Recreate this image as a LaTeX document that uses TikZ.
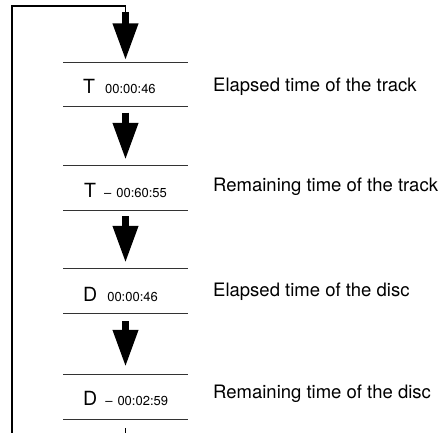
\documentclass[tikz,border=0pt]{standalone}
\usepackage{fontspec}
\setmainfont{TeX Gyre Heros}
\usetikzlibrary{arrows.meta}

\begin{document}
\begin{tikzpicture}[
		x=1pt,
		y=-1pt,
		frame/.style={minimum width=124pt, minimum height=44pt, inner sep=0pt},
		sep/.style={draw=black!80, line width=1.1pt},
		flow/.style={line width=7pt, -{Triangle[width=24pt,length=37pt]}},
		loopline/.style={line width=1.3pt},
		readout/.style={anchor=base west, inner sep=0pt},
		caption/.style={anchor=base west, inner sep=0pt, font=\fontsize{18.5}{22}\selectfont}
		]
		\useasboundingbox (0,0) rectangle (444,433);
		
		% Display rows
		\foreach \n/\y in {1/84.5, 2/188, 3/291, 4/397}{
			\node[frame] (r\n) at (125.5,\y) {};
			\draw[sep] (r\n.north west) -- (r\n.north east);
			\draw[sep] (r\n.south west) -- (r\n.south east);
		}
		
		% Readouts
		\newcommand{\bigchar}[1]{{\fontsize{19.5}{22}\selectfont #1}}
		\newcommand{\smalltime}[1]{{\fontsize{13}{15}\selectfont #1}}
		\node[readout] (v1) at (83,94) {\bigchar{T}\hspace{10pt}\smalltime{00:00:46}};
		\node[readout] (v2) at (84,197) {\bigchar{T}\hspace{8pt}\smalltime{--\hspace{5pt}00:60:55}};
		\node[readout] (v3) at (83,301) {\bigchar{D}\hspace{10pt}\smalltime{00:00:46}};
		\node[readout] (v4) at (83,405) {\bigchar{D}\hspace{8pt}\smalltime{--\hspace{5pt}00:02:59}};
		
		% Captions
		\node[caption] (c1) at (213,92) {Elapsed time of the track};
		\node[caption] (c2) at (213,191) {Remaining time of the track};
		\node[caption] (c3) at (213,296) {Elapsed time of the disc};
		\node[caption] (c4) at (213,398) {Remaining time of the disc};
		
		% Flow arrows
		\coordinate (in) at (125.5,12);
		\coordinate (out) at (125.5,428);
		\draw[flow, shorten >=2pt] (in) -- (r1.north);
		\draw[flow, shorten <=6pt, shorten >=6pt] (r1.south) -- (r2.north);
		\draw[flow, shorten <=6pt, shorten >=6pt] (r2.south) -- (r3.north);
		\draw[flow, shorten <=8pt, shorten >=8pt] (r3.south) -- (r4.north);
		
		% Loop back to the top
		\draw[loopline] (out) -- ++(0,20) -| (12,6) -| (in);
		
	\end{tikzpicture}
\end{document}
